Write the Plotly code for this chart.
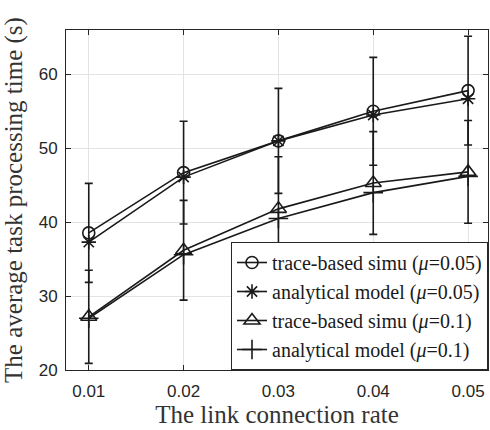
import plotly.graph_objects as go

rates = [0.01, 0.02, 0.03, 0.04, 0.05]
sim_005 = [38.55, 46.7, 51.0, 55.0, 57.8]
sim_005_err = [6.7, 6.95, 7.1, 7.3, 7.35]
ana_005 = [37.3, 46.1, 51.0, 54.5, 56.7]
sim_01 = [27.2, 36.2, 41.8, 45.3, 46.8]
sim_01_err = [6.3, 6.75, 7.05, 6.95, 6.95]
ana_01 = [27.0, 35.6, 40.5, 44.0, 46.2]

names = [
    "trace-based simu (<i>μ</i>=0.05)",
    "analytical model (<i>μ</i>=0.05)",
    "trace-based simu (<i>μ</i>=0.1)",
    "analytical model (<i>μ</i>=0.1)",
]

ink = "#1a1a1a"
fig = go.Figure()

def add(y, name, symbol, size, err=None):
    kw = {}
    if err is not None:
        kw["error_y"] = dict(type="data", array=err, visible=True,
                             color=ink, thickness=1.6, width=4)
    fig.add_trace(go.Scatter(
        x=rates, y=y, name=name, mode="lines+markers",
        line=dict(color=ink, width=1.6),
        marker=dict(symbol=symbol, size=size, color=ink,
                    line=dict(color=ink, width=1.6)),
        **kw))

add(sim_005, names[0], "circle-open", 12, sim_005_err)
add(ana_005, names[1], "asterisk-open", 12)
add(sim_01, names[2], "triangle-up-open", 14, sim_01_err)
add(ana_01, names[3], "cross-thin-open", 14)

axis_common = dict(
    showline=True, linecolor="#262626", linewidth=1, mirror="ticks",
    ticks="inside", ticklen=5, tickcolor="#262626",
    showgrid=True, gridcolor="#e3e3e3", gridwidth=1, zeroline=False,
    tickfont=dict(family="Liberation Sans, Arial", size=17, color="#262626"),
)
title_font = dict(family="Liberation Serif, Times New Roman", size=25, color="#333333")

fig.update_layout(
    width=490, height=430,
    margin=dict(l=66, r=2, t=30, b=60),
    paper_bgcolor="white", plot_bgcolor="white",
    showlegend=True,
    legend=dict(x=1, y=0, xanchor="right", yanchor="bottom",
                bordercolor="#262626", borderwidth=1, bgcolor="white",
                font=dict(family="Liberation Serif, Times New Roman", size=20, color="#1a1a1a"),
                tracegroupgap=0, itemsizing="trace"),
    xaxis=dict(range=[0.0076, 0.0521], tickvals=rates,
               ticktext=["0.01", "0.02", "0.03", "0.04", "0.05"],
               ticklabelstandoff=6,
               title=dict(text="The link connection rate", standoff=4, font=title_font),
               **axis_common),
    yaxis=dict(range=[20, 66], tickvals=[20, 30, 40, 50, 60],
               ticklabelstandoff=4,
               title=dict(text="The average task processing time (s)", standoff=8, font=title_font),
               **axis_common),
)

fig.write_html("out.html")
